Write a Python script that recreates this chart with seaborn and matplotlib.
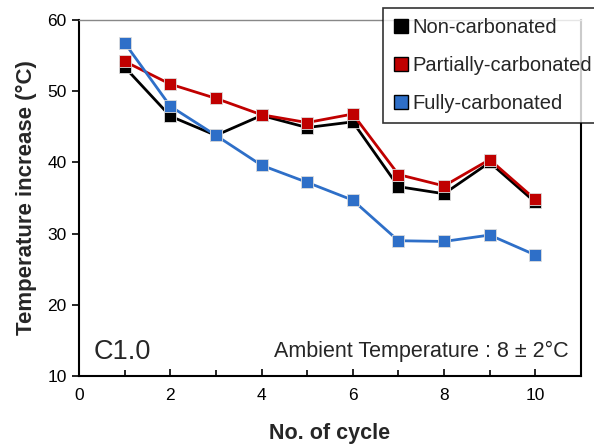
import matplotlib
matplotlib.use("Agg")
import matplotlib.pyplot as plt
import seaborn as sns
import pandas as pd
from matplotlib.lines import Line2D
from matplotlib.ticker import MultipleLocator

cycles = [1, 2, 3, 4, 5, 6, 7, 8, 9, 10]
non_carbonated = [53.4, 46.5, 43.8, 46.6, 44.9, 45.7, 36.6, 35.6, 40.0, 34.4]
partially_carbonated = [54.2, 51.0, 49.0, 46.7, 45.6, 46.8, 38.3, 36.7, 40.4, 34.8]
fully_carbonated = [56.8, 47.9, 43.8, 39.6, 37.2, 34.7, 29.0, 28.9, 29.8, 27.0]
series_names = ["Non-carbonated", "Partially-carbonated", "Fully-carbonated"]
colors = ["#000000", "#C00000", "#2E6FC8"]

df = pd.concat([
    pd.DataFrame({"cycle": cycles, "temp": vals, "series": name})
    for name, vals in zip(series_names, [non_carbonated, partially_carbonated, fully_carbonated])
])

sns.set_theme(style="white")
plt.rcParams['font.family'] = ['Liberation Sans', 'DejaVu Sans']

fig = plt.figure(figsize=(5.94, 4.46), dpi=100)
ax = fig.add_axes([0.133, 0.157, 0.845, 0.798])

palette = dict(zip(series_names, colors))
sns.lineplot(data=df, x="cycle", y="temp", hue="series", palette=palette,
             marker="s", markersize=8, linewidth=2, markeredgecolor="#dddddd",
             markeredgewidth=0.6, ax=ax, legend=False)

ax.set_xlim(0, 11)
ax.set_ylim(10, 60)
ax.xaxis.set_major_locator(MultipleLocator(2))
ax.xaxis.set_minor_locator(MultipleLocator(1))
ax.yaxis.set_major_locator(MultipleLocator(10))
ax.tick_params(axis="x", which="both", direction="in", length=5, width=1.2,
               labelsize=12.5, pad=9, bottom=True, colors="black")
ax.tick_params(axis="x", which="minor", length=4)
ax.tick_params(axis="y", direction="out", length=5, width=1.2, labelsize=12.5,
               left=True, colors="black", pad=4)
for s in ax.spines.values():
    s.set_color("black")
    s.set_linewidth(1.5)
ax.spines["top"].set_color("#888888")
ax.spines["top"].set_linewidth(1.0)

ax.set_xlabel("No. of cycle", fontsize=15.5, fontweight="bold", labelpad=14)
ax.set_ylabel("Temperature increase (°C)", fontsize=16, fontweight="bold", labelpad=7)

ax.text(0.03, 0.03, "C1.0", transform=ax.transAxes, fontsize=19.5, va="bottom", ha="left")
ax.text(0.975, 0.04, "Ambient Temperature : 8 ± 2°C", transform=ax.transAxes,
        fontsize=15.5, va="bottom", ha="right")

handles = [Line2D([], [], linestyle="none", marker="s", markersize=10,
                  markerfacecolor=c, markeredgecolor="black", markeredgewidth=1)
           for c in colors]
leg = fig.legend(handles, series_names, loc="upper left",
                 bbox_to_anchor=(0.645, 0.982), fontsize=14.5, frameon=True,
                 fancybox=False, edgecolor="black", handlelength=0.8,
                 handletextpad=0.15, labelspacing=0.95, borderpad=0.5,
                 borderaxespad=0)
leg.get_frame().set_linewidth(1.2)

fig.savefig("out.png", dpi=100)
